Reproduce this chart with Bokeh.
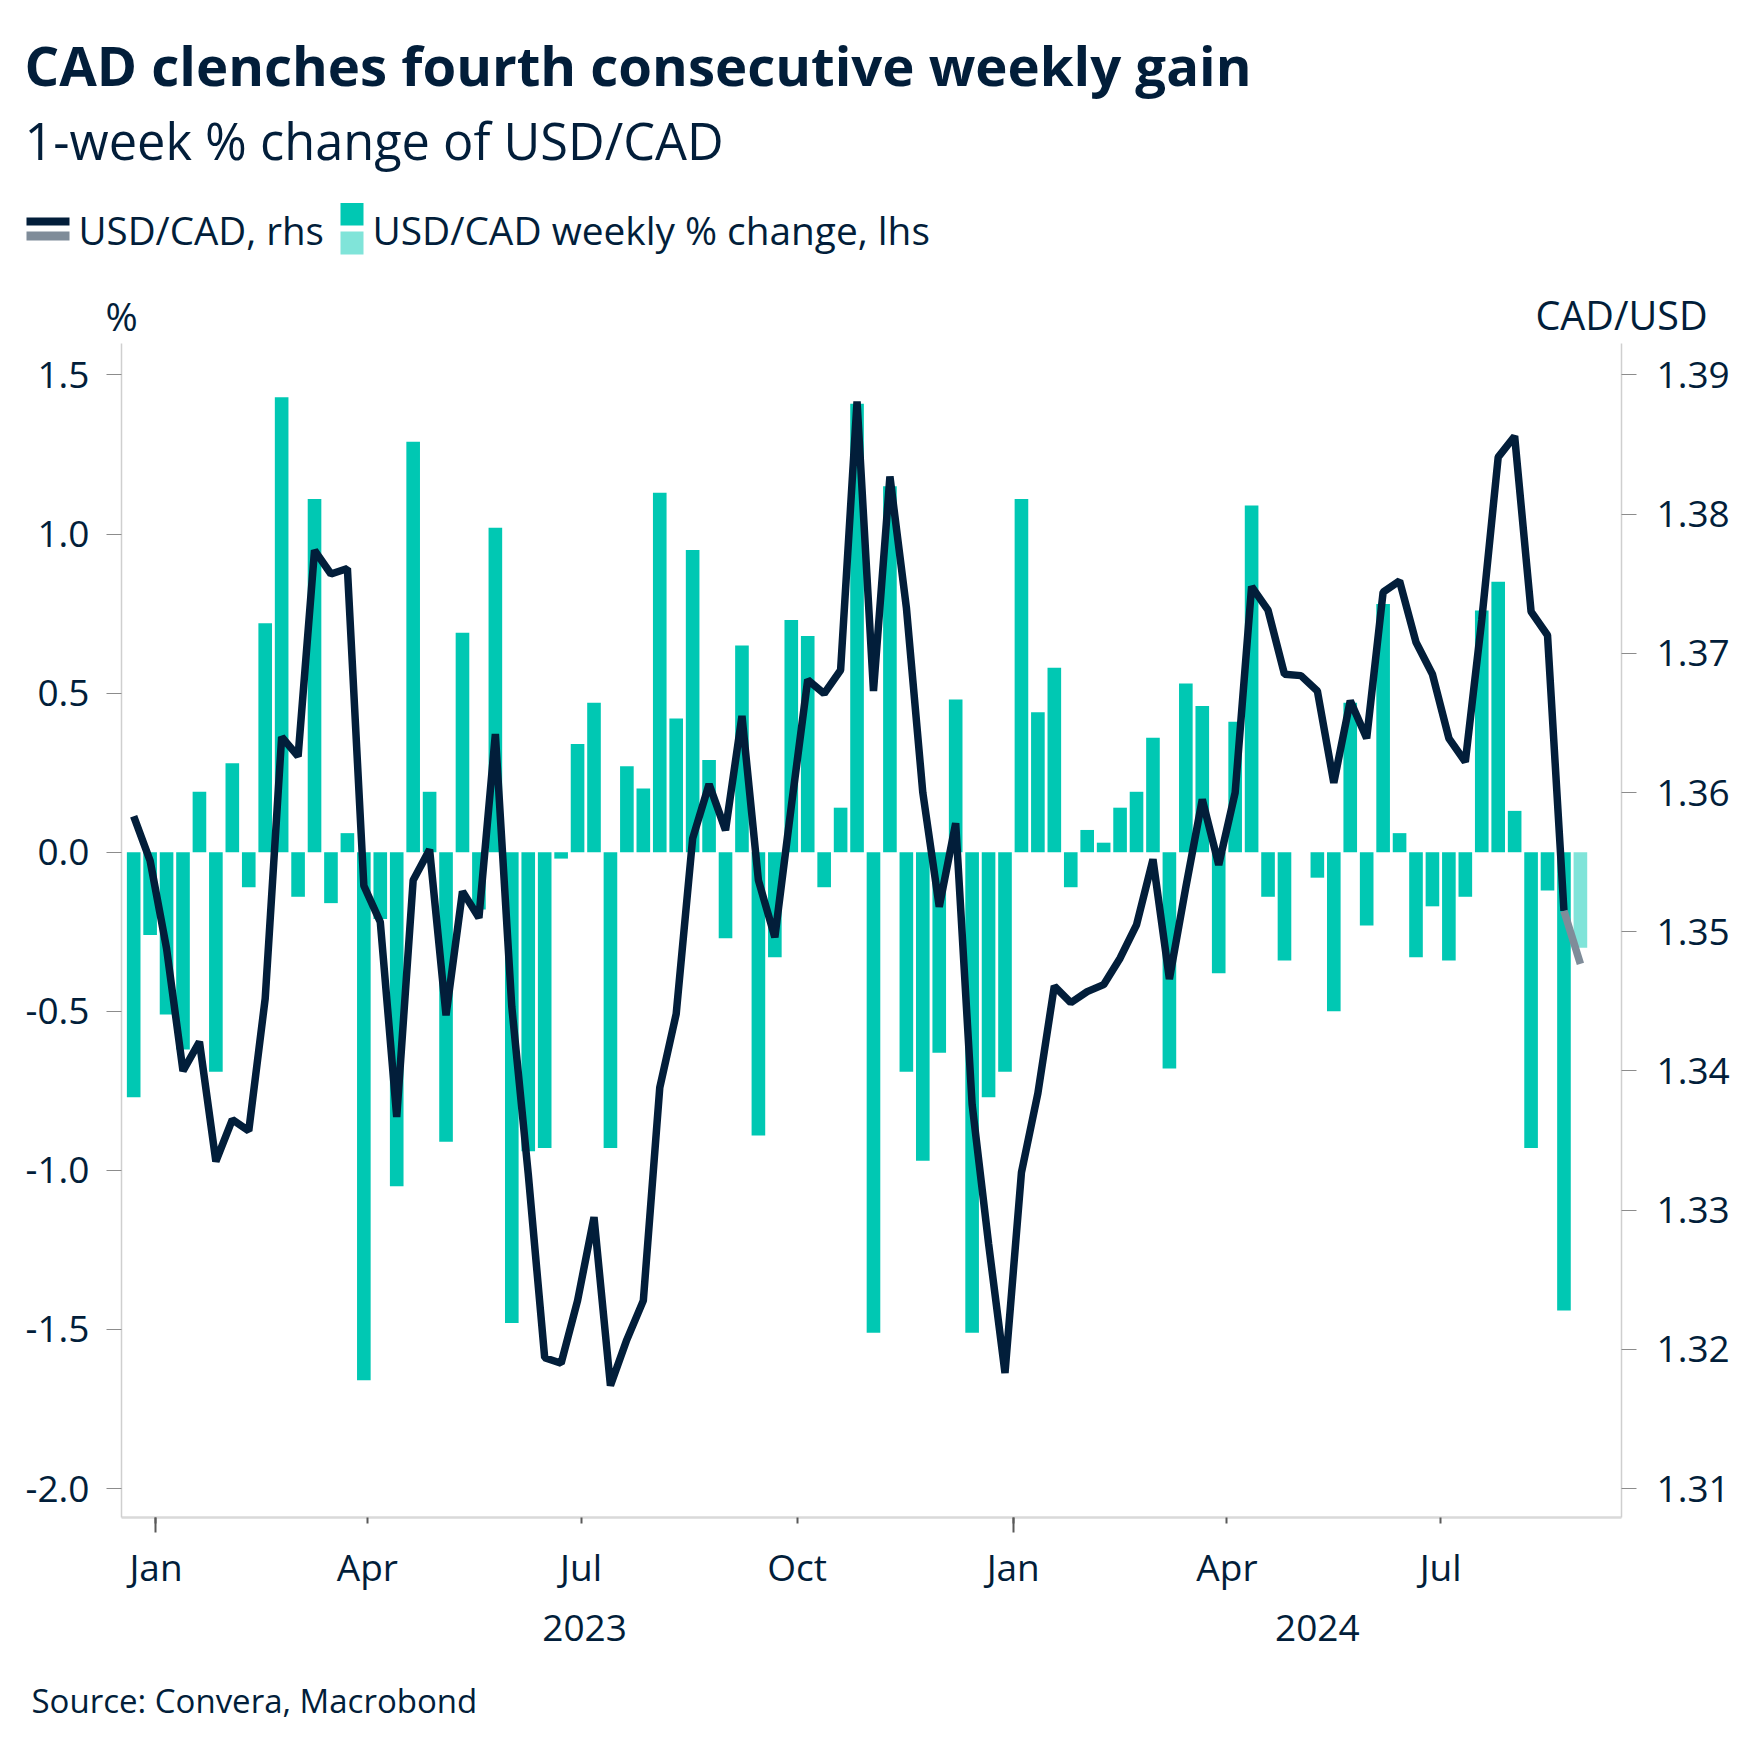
import pandas as pd
from bokeh.plotting import figure
from bokeh.models import Range1d, LinearAxis, FixedTicker
from bokeh.layouts import column
from bokeh.embed import file_html
from bokeh.resources import INLINE
from bokeh.core.properties import value

# ---------------- texts ----------------
TITLE = "CAD clenches fourth consecutive weekly gain"
SUBTITLE = "1-week % change of USD/CAD"
LEGEND_LINE = "USD/CAD, rhs"
LEGEND_BARS = "USD/CAD weekly % change, lhs"
LEFT_UNIT = "%"
RIGHT_UNIT = "CAD/USD"
SOURCE = "Source: Convera, Macrobond"

# ---------------- data ----------------
first_week = "2022-12-22 12:00"   # weekly observations
n_weeks = 89

weekly_change = [
    -0.77, -0.26, -0.51, -0.62, 0.19, -0.69, 0.28, -0.11, 0.72, 1.43,
    -0.14, 1.11, -0.16, 0.06, -1.66, -0.21, -1.05, 1.29, 0.19, -0.91,
    0.69, -0.18, 1.02, -1.48, -0.94, -0.93, -0.02, 0.34, 0.47, -0.93,
    0.27, 0.20, 1.13, 0.42, 0.95, 0.29, -0.27, 0.65, -0.89, -0.33,
    0.73, 0.68, -0.11, 0.14, 1.41, -1.51, 1.15, -0.69, -0.97, -0.63,
    0.48, -1.51, -0.77, -0.69, 1.11, 0.44, 0.58, -0.11, 0.07, 0.03,
    0.14, 0.19, 0.36, -0.68, 0.53, 0.46, -0.38, 0.41, 1.09, -0.14,
    -0.34, 0.00, -0.08, -0.50, 0.47, -0.23, 0.78, 0.06, -0.33, -0.17,
    -0.34, -0.14, 0.76, 0.85, 0.13, -0.93, -0.12, -1.44, -0.30,
]

usdcad = [
    1.3583, 1.3551, 1.3488, 1.3400, 1.3421, 1.3335, 1.3365, 1.3357, 1.3452, 1.3640,
    1.3626, 1.3774, 1.3757, 1.3761, 1.3533, 1.3507, 1.3367, 1.3537, 1.3559, 1.3440,
    1.3529, 1.3510, 1.3642, 1.3446, 1.3326, 1.3194, 1.3190, 1.3235, 1.3295, 1.3174,
    1.3207, 1.3235, 1.3388, 1.3441, 1.3567, 1.3606, 1.3573, 1.3655, 1.3537, 1.3496,
    1.3590, 1.3681, 1.3671, 1.3688, 1.3881, 1.3673, 1.3827, 1.3733, 1.3600, 1.3518,
    1.3578, 1.3376, 1.3276, 1.3183, 1.3327, 1.3384, 1.3461, 1.3449, 1.3457, 1.3462,
    1.3481, 1.3505, 1.3552, 1.3466, 1.3532, 1.3595, 1.3548, 1.3600, 1.3748, 1.3731,
    1.3685, 1.3684, 1.3673, 1.3607, 1.3666, 1.3639, 1.3744, 1.3752, 1.3708, 1.3685,
    1.3639, 1.3622, 1.3724, 1.3841, 1.3856, 1.3730, 1.3713, 1.3515, 1.3477,
]

left_ticks = [-2.0, -1.5, -1.0, -0.5, 0.0, 0.5, 1.0, 1.5]
left_tick_labels = ["-2.0", "-1.5", "-1.0", "-0.5", "0.0", "0.5", "1.0", "1.5"]
right_ticks = [1.31, 1.32, 1.33, 1.34, 1.35, 1.36, 1.37, 1.38, 1.39]
right_tick_labels = ["1.31", "1.32", "1.33", "1.34", "1.35", "1.36", "1.37", "1.38", "1.39"]
month_tick_dates = ["2023-01-01", "2023-04-01", "2023-07-01", "2023-10-01",
                    "2024-01-01", "2024-04-01", "2024-07-01"]
month_tick_labels = ["Jan", "Apr", "Jul", "Oct", "Jan", "Apr", "Jul"]
year_starts = ["2023-01-01", "2024-01-01"]
year_ends = ["2024-01-01", "2025-01-01"]
year_labels = ["2023", "2024"]

# ---------------- style ----------------
NAVY = "#021e3a"
TEAL = "#00c8b3"
TEAL_LIGHT = "#80e4d9"
GREY_LINE = "#7f8c99"
FONT = "Open Sans"


def ms(s):
    return int(pd.Timestamp(s).value // 10**6)


dates = [int(t.value // 10**6) for t in pd.date_range(first_week, periods=n_weeks, freq="7D")]
x_start = ms("2022-12-17 07:30")
x_end = ms("2024-09-16 00:00")
day = 86400000

W = 1750
FL, FR = 121, 1621
H_HEAD = 343
H_MAIN = 1320
H_FOOT = 1754 - H_HEAD - H_MAIN


def no_align(fig):
    if "frame_align" in fig.properties():
        fig.frame_align = False


# ---------------- header ----------------
h = figure(width=W, height=H_HEAD, x_range=Range1d(0, W), y_range=Range1d(H_HEAD, 0),
           x_axis_type=None, y_axis_type=None, toolbar_location=None,
           output_backend="svg", min_border=0, outline_line_color=None, title=None)
no_align(h)


def htext(fig, x, y, txt, size, align="left", bold=False):
    fig.text(x=[x], y=[y], text=[txt], text_font=value(FONT),
             text_font_size=value(size), text_color=NAVY,
             text_font_style=value("bold" if bold else "normal"),
             text_align=value(align), text_baseline=value("alphabetic"))


htext(h, 24, 64, TITLE, "54.5px", bold=True)
htext(h, 24, 140, SUBTITLE, "50.5px")
h.quad(left=[26], right=[69], top=[217], bottom=[225], fill_color=NAVY, line_color=None)
h.quad(left=[26], right=[69], top=[231], bottom=[240], fill_color=GREY_LINE, line_color=None)
h.quad(left=[340], right=[363], top=[202.5], bottom=[225], fill_color=TEAL, line_color=None)
h.quad(left=[340], right=[363], top=[231], bottom=[254], fill_color=TEAL_LIGHT, line_color=None)
htext(h, 78, 229.5, LEGEND_LINE, "38.5px")
htext(h, 372, 229.5, LEGEND_BARS, "38.8px")
htext(h, FL, 314.5, LEFT_UNIT, "39px", align="center")
htext(h, FR, 314.5, RIGHT_UNIT, "39.5px", align="center")

# ---------------- main plot ----------------
p = figure(width=W, height=H_MAIN, x_range=Range1d(x_start, x_end),
           y_range=Range1d(-2.091, 1.599), x_axis_type=None, y_axis_type=None,
           toolbar_location=None, output_backend="svg", title=None,
           min_border_left=FL, min_border_right=W - FR, min_border_top=0,
           min_border_bottom=H_MAIN - 1174, outline_line_color=None)
no_align(p)
p.extra_y_ranges = {"rhs": Range1d(1.30792, 1.39226)}

bar_w = 5.8 * day
p.vbar(x=dates[:-1], top=weekly_change[:-1], bottom=0, width=bar_w,
       fill_color=TEAL, line_color=None)
p.vbar(x=dates[-1:], top=weekly_change[-1:], bottom=0, width=bar_w,
       fill_color=TEAL_LIGHT, line_color=None)
p.line(x=dates[:-1], y=usdcad[:-1], y_range_name="rhs", line_color=NAVY, line_width=7.5)
p.line(x=dates[-2:], y=usdcad[-2:], y_range_name="rhs", line_color=GREY_LINE, line_width=7.5)


def style_y(ax, standoff):
    ax.major_tick_out = 15
    ax.major_tick_in = 0
    ax.minor_tick_line_color = None
    ax.major_tick_line_color = "#8c8c8c"
    ax.major_tick_line_width = 1
    ax.axis_line_color = "#cfcfcf"
    ax.axis_line_width = 1.5
    ax.major_label_text_font = FONT
    ax.major_label_text_font_size = "37px"
    ax.major_label_text_color = NAVY
    ax.major_label_standoff = standoff


la = LinearAxis(ticker=FixedTicker(ticks=left_ticks),
                major_label_overrides=dict(zip(left_ticks, left_tick_labels)))
style_y(la, 17)
p.add_layout(la, "left")

ra = LinearAxis(y_range_name="rhs", ticker=FixedTicker(ticks=right_ticks),
                major_label_overrides=dict(zip(right_ticks, right_tick_labels)))
style_y(ra, 20)
p.add_layout(ra, "right")

month_ticks = [ms(d) for d in month_tick_dates]
jan_ticks = [ms(d) for d in year_starts]
xa = LinearAxis(ticker=FixedTicker(ticks=month_ticks, minor_ticks=jan_ticks),
                major_label_overrides=dict(zip(month_ticks, month_tick_labels)))
xa.major_tick_out = 6
xa.major_tick_in = 0
xa.minor_tick_out = 15
xa.minor_tick_in = 0
xa.major_tick_line_color = "#5a5a5a"
xa.major_tick_line_width = 2
xa.minor_tick_line_color = "#5a5a5a"
xa.minor_tick_line_width = 2
xa.axis_line_color = "#d9d9d9"
xa.axis_line_width = 2.5
xa.major_label_text_font = FONT
xa.major_label_text_font_size = "37px"
xa.major_label_text_color = NAVY
xa.major_label_standoff = 8
p.add_layout(xa, "below")

year_pos = []
for s, e in zip(year_starts, year_ends):
    a = max(ms(s), x_start)
    b = min(ms(e), x_end)
    year_pos.append((a + b) // 2)
ya = LinearAxis(ticker=FixedTicker(ticks=year_pos, minor_ticks=[]),
                major_label_overrides=dict(zip(year_pos, year_labels)))
ya.major_tick_line_color = None
ya.minor_tick_line_color = None
ya.axis_line_color = None
ya.major_label_text_font = FONT
ya.major_label_text_font_size = "37px"
ya.major_label_text_color = NAVY
ya.major_label_standoff = 14
p.add_layout(ya, "below")

p.xgrid.visible = False
p.ygrid.visible = False

# ---------------- footer ----------------
f = figure(width=W, height=H_FOOT, x_range=Range1d(0, W), y_range=Range1d(H_FOOT, 0),
           x_axis_type=None, y_axis_type=None, toolbar_location=None,
           output_backend="svg", min_border=0, outline_line_color=None, title=None)
no_align(f)
htext(f, 31, 1700 - (H_HEAD + H_MAIN), SOURCE, "33px")

layout = column(h, p, f, spacing=0)
open("out.html", "w").write(file_html(layout, INLINE))
